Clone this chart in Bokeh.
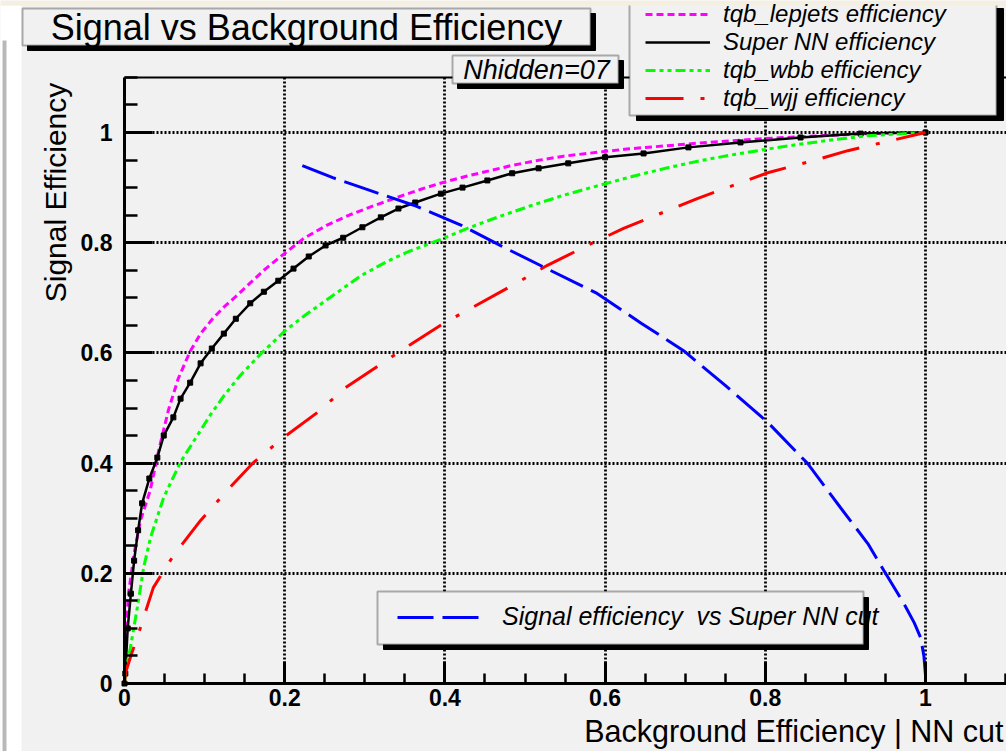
from bokeh.plotting import figure
from bokeh.models import (Range1d, FixedTicker, LinearAxis, BoxAnnotation, Label, Grid,
                          Legend, LegendItem, CustomJSTickFormatter)
from bokeh.embed import file_html
from bokeh.resources import INLINE

# ---------------- data ----------------
lep_x = [0, 0.001, 0.005, 0.012, 0.020, 0.032, 0.043, 0.055, 0.067, 0.082, 0.095, 0.110,
         0.124, 0.141, 0.157, 0.174, 0.195, 0.224, 0.253, 0.282, 0.311, 0.340, 0.370, 0.399,
         0.428, 0.457, 0.486, 0.515, 0.548, 0.590, 0.627, 0.719, 0.80, 0.88, 0.95, 1.0]
lep_y = [0, 0.078, 0.163, 0.236, 0.296, 0.35, 0.425, 0.497, 0.553, 0.603, 0.635, 0.662,
         0.683, 0.705, 0.727, 0.750, 0.775, 0.808, 0.832, 0.851, 0.867, 0.882, 0.897, 0.910,
         0.921, 0.931, 0.941, 0.949, 0.957, 0.964, 0.970, 0.981, 0.989, 0.995, 0.999, 1.0]

nn_x = [0, 0.001, 0.004, 0.008, 0.012, 0.017, 0.022, 0.031, 0.041, 0.049, 0.061, 0.070,
        0.082, 0.095, 0.109, 0.124, 0.139, 0.157, 0.174, 0.192, 0.211, 0.230, 0.251, 0.273,
        0.297, 0.320, 0.342, 0.363, 0.395, 0.422, 0.453, 0.484, 0.517, 0.554, 0.600, 0.648,
        0.704, 0.769, 0.844, 0.919, 1.0]
nn_y = [0, 0.018, 0.10, 0.163, 0.223, 0.278, 0.327, 0.372, 0.410, 0.450, 0.483, 0.517,
        0.546, 0.581, 0.608, 0.635, 0.662, 0.690, 0.711, 0.731, 0.753, 0.775, 0.795, 0.809,
        0.828, 0.846, 0.862, 0.873, 0.889, 0.900, 0.913, 0.926, 0.935, 0.944, 0.955, 0.962,
        0.973, 0.982, 0.991, 0.998, 1.0]

wbb_x = [0, 0.001, 0.0075, 0.016, 0.024, 0.0325, 0.049, 0.070, 0.090, 0.107, 0.124, 0.145,
         0.170, 0.201, 0.228, 0.261, 0.295, 0.328, 0.353, 0.395, 0.428, 0.465, 0.507, 0.548,
         0.590, 0.636, 0.678, 0.719, 0.761, 0.803, 0.844, 0.886, 0.927, 1.0]
wbb_y = [0, 0.018, 0.066, 0.138, 0.211, 0.265, 0.338, 0.402, 0.448, 0.487, 0.522, 0.560,
         0.598, 0.641, 0.671, 0.705, 0.740, 0.766, 0.783, 0.806, 0.826, 0.846, 0.867, 0.886,
         0.903, 0.921, 0.936, 0.949, 0.960, 0.970, 0.979, 0.987, 0.994, 1.0]

wjj_x = [0, 0.001, 0.0075, 0.020, 0.036, 0.061, 0.095, 0.126, 0.161, 0.199, 0.241, 0.276,
         0.345, 0.40, 0.491, 0.528, 0.578, 0.623, 0.715, 0.803, 0.860, 0.903, 1.0]
wjj_y = [0, 0.018, 0.048, 0.102, 0.174, 0.232, 0.296, 0.347, 0.401, 0.447, 0.492, 0.537,
         0.604, 0.655, 0.728, 0.759, 0.795, 0.826, 0.880, 0.927, 0.949, 0.967, 1.0]

sig_x = [0.222, 0.26, 0.30, 0.361, 0.42, 0.469, 0.53, 0.590, 0.645, 0.698, 0.75, 0.803,
         0.853, 0.894, 0.928, 0.948, 0.973, 0.986, 0.994, 0.998, 1.0, 1.0]
sig_y = [0.940, 0.918, 0.898, 0.868, 0.832, 0.795, 0.751, 0.708, 0.654, 0.604, 0.541, 0.474,
         0.399, 0.319, 0.254, 0.205, 0.145, 0.110, 0.083, 0.050, 0.015, 0.0]

major_ticks = [0, 0.2, 0.4, 0.6, 0.8, 1.0]
minor_ticks = [0.05, 0.1, 0.15, 0.25, 0.3, 0.35, 0.45, 0.5, 0.55, 0.65, 0.7, 0.75,
               0.85, 0.9, 0.95, 1.05, 1.1]
grid_ticks = [0.2, 0.4, 0.6, 0.8, 1.0]

title_text = "Signal vs Background Efficiency"
xlabel_text = "Background Efficiency | NN cut"
ylabel_text = "Signal Efficiency"
nhidden_text = "Nhidden=07"
leg_labels = ["tqb_lepjets efficiency", "Super NN efficiency",
              "tqb_wbb efficiency", "tqb_wjj efficiency"]
sig_label = "Signal efficiency  vs Super NN cut"

# ---------------- layout / styling ----------------
W, H = 1006, 751
BG = "#f1f1f1"
FONT = "Liberation Sans"
# pixel position of the data origin and pixels per unit
X0, Y0, PX = 124.0, 683.0, 801.0
PY = 551.0
X_MAX, Y_MAX = 1.101, 1.1


def sx(cx):
    return cx


def sy(cy):
    return H - cy


def sbox(l, t, r, b, **kw):
    return BoxAnnotation(left=sx(l), right=sx(r), top=sy(t), bottom=sy(b),
                         left_units="screen", right_units="screen",
                         top_units="screen", bottom_units="screen", **kw)


def shadow(l, t, r, b):
    return sbox(l, t, r, b, fill_color="black", fill_alpha=1.0,
                line_color="black", line_alpha=1.0, line_width=1)


p = figure(width=W, height=H,
           x_range=Range1d(-X0 / PX, (W - X0) / PX),
           y_range=Range1d(-(H - Y0) / PY, Y0 / PY),
           output_backend="svg", toolbar_location=None,
           x_axis_location=None, y_axis_location=None,
           min_border_left=0, min_border_right=0, min_border_top=0, min_border_bottom=0,
           background_fill_color=BG, border_fill_color=BG, outline_line_color=None)
p.center = []

fmt = CustomJSTickFormatter(code="return (Math.round(tick*10)/10).toString();")


def style_axis(ax, tin, mtin, stand):
    ax.ticker = FixedTicker(ticks=major_ticks, minor_ticks=minor_ticks)
    ax.formatter = fmt
    ax.axis_line_width = 3
    ax.axis_line_color = "black"
    ax.major_tick_in = tin
    ax.major_tick_out = 0
    ax.minor_tick_in = mtin
    ax.minor_tick_out = 0
    ax.major_tick_line_width = 3
    ax.minor_tick_line_width = 2.5
    ax.major_tick_line_color = "black"
    ax.minor_tick_line_color = "black"
    ax.major_label_text_font = FONT
    ax.major_label_text_font_style = "bold"
    ax.major_label_text_font_size = "23px"
    ax.major_label_text_color = "black"
    ax.major_label_standoff = stand


xaxis = LinearAxis(fixed_location=0, bounds=(0, X_MAX))
style_axis(xaxis, 22, 10, 5)
yaxis = LinearAxis(fixed_location=0, bounds=(0, Y_MAX))
style_axis(yaxis, 28, 13, 12)
p.add_layout(xaxis, "below")
p.add_layout(yaxis, "left")

top_axis = LinearAxis(fixed_location=Y_MAX, bounds=(0, X_MAX),
                      ticker=FixedTicker(ticks=[]), axis_line_width=2, axis_line_color="black",
                      major_tick_line_color=None, minor_tick_line_color=None,
                      major_label_text_alpha=0)
p.add_layout(top_axis, "above")

grid_style = dict(grid_line_color="black", grid_line_width=2.8, grid_line_dash="2 2",
                  grid_line_alpha=1)
xgrid = Grid(dimension=0, ticker=FixedTicker(ticks=grid_ticks), **grid_style)
ygrid = Grid(dimension=1, ticker=FixedTicker(ticks=grid_ticks), **grid_style)
try:
    xgrid.cross_bounds = (0, Y_MAX)
    ygrid.cross_bounds = (0, X_MAX)
    p.add_layout(xgrid)
    p.add_layout(ygrid)
except AttributeError:
    p.segment(x0=grid_ticks, y0=[0] * len(grid_ticks), x1=grid_ticks,
              y1=[Y_MAX] * len(grid_ticks), line_color="black", line_width=2.8,
              line_dash="2 2", level="underlay")
    p.segment(x0=[0] * len(grid_ticks), y0=grid_ticks, x1=[X_MAX] * len(grid_ticks),
              y1=grid_ticks, line_color="black", line_width=2.8,
              line_dash="2 2", level="underlay")

# ---------------- curves ----------------
r_lep = p.line(lep_x, lep_y, line_color="#ff00ff", line_width=3, line_dash="7 4")
r_nn = p.line(nn_x, nn_y, line_color="black", line_width=2.5)
p.scatter(nn_x, nn_y, marker="square", size=5, color="black")
r_wbb = p.line(wbb_x, wbb_y, line_color="#00ff00", line_width=3, line_dash="10 4 4 4 4 4")
r_wjj = p.line(wjj_x, wjj_y, line_color="#ff0000", line_width=3, line_dash="38 17 4 17")
r_sig = p.line(sig_x, sig_y, line_color="#0000ff", line_width=3, line_dash="36 9")

# ---------------- page decorations ----------------
p.add_layout(sbox(0, 5, 21, 751, fill_color="white", fill_alpha=1, line_color=None))
p.add_layout(sbox(2, 40, 6, 751, fill_color="#b8b8b8", fill_alpha=1, line_color=None))

# title box
p.add_layout(shadow(27, 13, 595, 50))
p.add_layout(sbox(22, 8, 590, 45, fill_color=BG, fill_alpha=1, line_color="black", line_width=2))
p.add_layout(Label(x=sx(306), y=sy(27), x_units="screen", y_units="screen", text=title_text,
                   text_font=FONT, text_font_size="36px", text_align="center",
                   text_baseline="middle", text_color="black"))

# Nhidden box
p.add_layout(shadow(457, 60, 623, 88))
p.add_layout(sbox(452, 55, 618, 83, fill_color=BG, fill_alpha=1, line_color="black", line_width=2))
p.add_layout(Label(x=sx(536), y=sy(69), x_units="screen", y_units="screen", text=nhidden_text,
                   text_font=FONT, text_font_size="27px", text_font_style="italic",
                   text_align="center", text_baseline="middle", text_color="black"))

# top legend box
p.add_layout(shadow(636, 8, 1003, 120))
p.add_layout(sbox(629, 3, 996, 115, fill_color=BG, fill_alpha=1, line_color="black", line_width=2))
leg1 = Legend(items=[LegendItem(label=leg_labels[0], renderers=[r_lep]),
                     LegendItem(label=leg_labels[1], renderers=[r_nn]),
                     LegendItem(label=leg_labels[2], renderers=[r_wbb]),
                     LegendItem(label=leg_labels[3], renderers=[r_wjj])],
              location=(sx(645), sy(111.5)), padding=0, margin=0, spacing=-1,
              glyph_width=65, glyph_height=26, label_height=26, label_standoff=13,
              label_text_font=FONT, label_text_font_style="italic", label_text_font_size="24px",
              label_text_color="black", background_fill_alpha=0, border_line_color=None)
p.add_layout(leg1)

# bottom legend box
p.add_layout(shadow(383, 597, 868, 649))
p.add_layout(sbox(377, 591, 863, 644, fill_color=BG, fill_alpha=1, line_color="black", line_width=2))
leg2 = Legend(items=[LegendItem(label=sig_label, renderers=[r_sig])],
              location=(sx(397), sy(631)), padding=0, margin=0,
              glyph_width=84, glyph_height=26, label_height=26, label_standoff=21,
              label_text_font=FONT, label_text_font_style="italic", label_text_font_size="25px",
              label_text_color="black", background_fill_alpha=0, border_line_color=None)
p.add_layout(leg2)

# axis titles
p.add_layout(Label(x=sx(1003), y=sy(730), x_units="screen", y_units="screen", text=xlabel_text,
                   text_font=FONT, text_font_size="30.5px", text_align="right",
                   text_baseline="middle", text_color="black"))
p.add_layout(Label(x=sx(55), y=sy(192), x_units="screen", y_units="screen", text=ylabel_text,
                   text_font=FONT, text_font_size="30px", text_align="center",
                   text_baseline="middle", angle=1.5708, text_color="black"))

# top strip of the page
p.add_layout(sbox(0, 0, 1006, 5, fill_color="#f4efe0", fill_alpha=1, line_color=None,
                  level="overlay"))

open("out.html", "w").write(file_html(p, INLINE))
